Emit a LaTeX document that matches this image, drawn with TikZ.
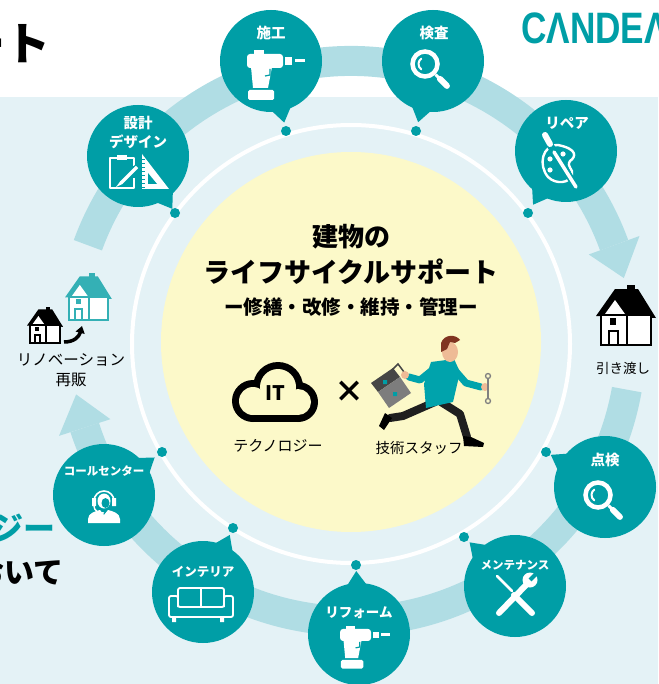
\documentclass[tikz,border=0pt]{standalone}
\usepackage{fontspec}
\setmainfont{Noto Sans CJK JP}
\newfontfamily\logofont{Liberation Sans}
\usetikzlibrary{calc,positioning,arrows.meta}

\definecolor{cteal}{RGB}{0,158,166}
\definecolor{cband}{RGB}{176,221,228}
\definecolor{cpale}{RGB}{228,242,246}
\definecolor{ccream}{RGB}{252,249,201}
\definecolor{chouse}{RGB}{52,176,181}
\definecolor{cshirt}{RGB}{0,163,172}
\definecolor{cskin}{RGB}{238,187,150}
\definecolor{chair}{RGB}{128,52,32}
\definecolor{cbox}{RGB}{125,125,125}
\definecolor{cboxtop}{RGB}{70,70,70}

\begin{document}
\begin{tikzpicture}[x=1pt,y=-1pt,
    bubble/.style={circle,fill=cteal,minimum size=102pt,inner sep=0pt},
    dot/.style={circle,fill=cteal,minimum size=10pt,inner sep=0pt},
    blabel/.style={text=white,inner sep=0pt,align=center,font=\bfseries\fontsize{14.5}{19}\selectfont},
    slabel/.style={blabel,font=\bfseries\fontsize{11.5}{14}\selectfont},
    caption/.style={inner sep=0pt,align=center,font=\fontsize{14.5}{19.5}\selectfont},
    ring/.style={cband,line width=30pt},
    icon/.style={white,line width=1.8pt,line join=round},
    hline/.style={line width=2.6pt},
    pics/drill/.style={code={
      \fill[white] (-22,-25) rectangle (-12,-20);
      \fill[white,rounded corners=3pt] (-29,-21) rectangle (7,-7);
      \fill[white] (9,-18) rectangle (16,-10);
      \fill[white] (19,-16) rectangle (29,-13);
      \fill[white] (-25,-8) -- (-4,-8) -- (-8,13) -- (-23,13) -- cycle;
      \fill[white,rounded corners=1.5pt] (-28,15) rectangle (-2,25);
      \draw[cteal,line width=1.2pt] (-6,-6) -- (-6,0) -- (-11,1);
    }},
    pics/lens/.style={code={
      \draw[white,line width=4.5pt] (0,0) circle[radius=12.5];
      \draw[white,line width=2pt,line cap=round] (125:6.5) arc[start angle=125,end angle=235,radius=6.5];
      \draw[white,line width=3pt] (45:15) -- (45:21);
      \draw[white,line width=6pt,line cap=round] (45:21) -- (45:31);
    }},
    pics/house/.style={code={
      \fill[#1] (31,-60) rectangle (39,-44);
      \fill[#1] (0,-29) -- (19,-56) -- (42,-56) -- (60,-27) -- cycle;
      \fill[white] (9,-31) -- (19,-45) -- (29,-31) -- cycle;
      \draw[#1,hline,fill=white] (5,-30) rectangle (55,0);
      \draw[#1,hline] (31,-30) -- (31,0);
      \draw[#1,hline] (13,0) -- (13,-14) -- (22,-14) -- (22,0);
      \fill[#1] (14,-27) rectangle (20,-20);
    }}]
  \useasboundingbox (0,0) rectangle (658,684);
  \fill[cpale] (0,97) rectangle (658,684);

  % cycle band with its two arrow heads
  \coordinate (rc) at (351,341);
  \draw[ring] ($(rc)+(200:280)$) arc[start angle=200,end angle=340,radius=280];
  \fill[cband] ($(rc)+(340:253)$) -- ($(rc)+(347:280)$) -- ($(rc)+(340:307)$) -- cycle;
  \draw[ring] ($(rc)+(10:280)$) arc[start angle=10,end angle=162,radius=280];
  \fill[cband] ($(rc)+(162:253)$) -- ($(rc)+(169:280)$) -- ($(rc)+(162:307)$) -- cycle;

  % inner ring and centre disc
  \draw[white,line width=4pt] (351,344) circle[radius=219];
  \fill[ccream] (351,342) circle[radius=190];

  % points on the ring
  \node[dot] (d1) at (286,131) {};
  \node[dot] (d2) at (416,131) {};
  \node[dot] (d3) at (528,213) {};
  \node[dot] (d4) at (175,213) {};
  \node[dot] (d5) at (162,452) {};
  \node[dot] (d6) at (233,528) {};
  \node[dot] (d7) at (356,565) {};
  \node[dot] (d8) at (464,537) {};
  \node[dot] (d9) at (546,452) {};

  % speech bubbles
  \node[bubble] (b1) at (271,61) {};
  \node[bubble] (b2) at (433,61) {};
  \node[bubble] (b3) at (566,151) {};
  \node[bubble] (b4) at (138,156) {};
  \node[bubble] (b5) at (104,495) {};
  \node[bubble] (b6) at (203,592) {};
  \node[bubble] (b7) at (359,634) {};
  \node[bubble] (b8) at (515,586) {};
  \node[bubble] (b9) at (605,487) {};
  \foreach \n in {1,...,9}
    \fill[cteal] ($(b\n)!44pt!-20:(d\n)$) -- ($(b\n)!63pt!(d\n)$) -- ($(b\n)!44pt!20:(d\n)$) -- cycle;

  % 施工
  \node[blabel] (l1) at ($(b1)+(0,-28)$) {施工};
  \pic at ($(b1)+(5,14)$) {drill};
  % 検査
  \node[blabel] (l2) at ($(b2)+(1,-28)$) {検査};
  \pic at ($(b2)+(-8,3)$) {lens};
  % リペア
  \node[blabel] (l3) at ($(b3)+(1,-28)$) {リペア};
  \begin{scope}[shift={($(b3)+(-4,12)$)}]
    \draw[icon,line width=2.4pt] (-4,-18) .. controls (-20,-18) and (-24,2) .. (-14,14)
      .. controls (-6,22) and (8,20) .. (10,12) .. controls (12,6) and (4,4) .. (8,-2)
      .. controls (14,-6) and (16,-14) .. (-4,-18);
    \fill[white] (-12,-4) circle[radius=2.6] (-12,7) circle[radius=2.6] (1,-9) circle[radius=2.6];
    \draw[cteal,line width=7pt,line cap=round] (-12,-18) -- (14,24);
    \draw[white,line width=3.5pt,line cap=round] (-8,-11) -- (14,24);
    \draw[white,line width=6pt,line cap=round] (-17,-28) -- (-12,-19);
  \end{scope}
  % 設計デザイン
  \node[blabel] (l4) at ($(b4)+(0,-24)$) {設計\\デザイン};
  \begin{scope}[shift={(b4)}]
    \draw[icon] (-20,2) -- (-28,2) -- (-28,32) -- (-4,32) -- (-4,22);
    \draw[icon] (-12,2) -- (-4,2) -- (-4,10);
    \fill[white] (-21,-1) rectangle (-11,4);
    \draw[cteal,line width=6pt] (-1,11) -- (-19,29);
    \draw[white,line width=3.5pt] (-1,11) -- (-17,27);
    \fill[white] (-17.5,25) -- (-22,31) -- (-15.5,28) -- cycle;
    \fill[white] (4,-2) -- (4,33) -- (31,33) -- cycle;
    \fill[cteal] (10,17) -- (10,28) -- (19,28) -- cycle;
    \foreach \t in {3,7,...,31} \draw[cteal,line width=0.8pt] (4,\t) -- (7,\t);
  \end{scope}
  % コールセンター
  \node[slabel] (l5) at ($(b5)+(0,-24)$) {コールセンター};
  \begin{scope}[shift={(b5)}]
    \draw[white,line width=1.6pt] (-10,6) arc[start angle=180,end angle=360,radius=10];
    \fill[white] (-12,3) rectangle (-8,11) (8,3) rectangle (12,11);
    \fill[white] (0,6) ellipse[x radius=6.5,y radius=7.5];
    \fill[cteal] (1.5,8) ellipse[x radius=4,y radius=5];
    \draw[white,line width=1.4pt] (-10,10) .. controls (-10,17) and (-5,18) .. (0,18);
    \fill[white] (-16,28) -- (-16,24) .. controls (-16,18) and (-8,16) .. (-4,15) -- (0,20)
      -- (4,15) .. controls (8,16) and (16,18) .. (16,24) -- (16,28) -- cycle;
  \end{scope}
  % インテリア
  \node[blabel,font=\bfseries\fontsize{12.5}{15}\selectfont] (l6) at ($(b6)+(0,-20)$) {インテリア};
  \begin{scope}[shift={(b6)}]
    \draw[icon,rounded corners=2pt] (-25,15) -- (-25,-4) -- (21,-4) -- (21,15);
    \draw[icon] (-2,-4) -- (-2,15);
    \draw[icon,rounded corners=2pt] (-34,25) -- (-34,4) -- (-25,4) -- (-25,15) -- (21,15)
      -- (21,4) -- (30,4) -- (30,25) -- cycle;
    \fill[white] (-31,25) rectangle (-27,30) (17,25) rectangle (21,30);
  \end{scope}
  % リフォーム
  \node[blabel,font=\bfseries\fontsize{13.5}{16}\selectfont] (l7) at ($(b7)+(0,-21)$) {リフォーム};
  \pic[scale=0.86] at ($(b7)+(6,13)$) {drill};
  % メンテナンス
  \node[slabel] (l8) at ($(b8)+(0,-21)$) {メンテナンス};
  \begin{scope}[shift={(b8)}]
    \draw[white,line width=6pt,line cap=round] (-16,27) -- (12,-2);
    \fill[white] (15,-6) circle[radius=7.5];
    \draw[cteal,line width=4pt] (15,-6) -- (23,-14);
    \draw[white,line width=2.5pt,line cap=round] (-18,-10) -- (-3,5);
    \draw[white,line width=6pt,line cap=round] (-1,9) -- (17,27);
  \end{scope}
  % 点検
  \node[blabel] (l9) at ($(b9)+(0,-27)$) {点検};
  \pic at ($(b9)+(-7,8)$) {lens};

  % houses
  \pic at (596,345) {house=black};
  \node[caption,font=\fontsize{13.5}{16}\selectfont] (handover) at (623,368) {引き渡し};
  \pic[scale=0.6,hline/.style={line width=1.8pt}] at (27,343) {house=black};
  \pic[scale=0.78,hline/.style={line width=2.2pt}] at (65,320) {house=chouse};
  \coordinate (oldhouse) at (64,342);
  \coordinate (newhouse) at (82,326);
  \draw[-{Triangle[length=7pt,width=9pt]},line width=3.5pt] (oldhouse) .. controls (74,342) and (79,337) .. (newhouse);
  \node[caption,font=\fontsize{15.5}{19.5}\selectfont] (resale) at (71,370) {リノベーション\\再販};

  % centre text
  \node[font=\bfseries\fontsize{26}{30}\selectfont] (title1) at (351,237) {建物の};
  \node[font=\bfseries\fontsize{27}{30}\selectfont] (title2) at (351,272) {ライフサイクルサポート};
  \node[font=\bfseries\fontsize{19.5}{22}\selectfont] (title3) at (351,307) {ー修繕・改修・維持・管理ー};

  % cloud
  \fill[black] (253,401) circle[radius=21];
  \fill[black] (278,387) circle[radius=25];
  \fill[black] (298,402) circle[radius=20];
  \fill[black] (253,392) rectangle (298,422);
  \fill[ccream] (253,401) circle[radius=14];
  \fill[ccream] (278,387) circle[radius=18];
  \fill[ccream] (298,402) circle[radius=13];
  \fill[ccream] (253,395) rectangle (298,415);
  \node[font=\bfseries\fontsize{20}{20}\selectfont] (it) at (275,393) {IT};
  \node[font=\bfseries\fontsize{30}{30}\selectfont] (times) at (349,392) {×};
  \node[caption,font=\fontsize{15}{18}\selectfont] (tech) at (278,446) {テクノロジー};
  \node[caption] (staff) at (419,448) {技術スタッフ};

  % running staff member
  \fill[cboxtop] (371,383) -- (393,368) -- (400,377) -- (378,392) -- cycle;
  \fill[cbox] (378,392) -- (400,377) -- (411,393) -- (389,408) -- cycle;
  \fill[cteal] (383,380) rectangle (387,384) (393,392) rectangle (397,396);
  \draw[cboxtop,line width=1.5pt] (392,370) -- (398,364) -- (404,372);
  \draw[cshirt,line width=7pt,line cap=round,line join=round] (436,367) -- (420,380) -- (409,377);
  \fill[cskin] (405,375) circle[radius=4];
  \draw[black!88,line width=8pt,line cap=round,line join=round] (435,402) -- (403,416) -- (390,418);
  \draw[black!88,line width=8pt,line cap=round,line join=round] (441,402) -- (460,414) -- (467,437);
  \fill[black] (385,413) -- (392,418) -- (384,430) -- (379,426) -- cycle;
  \fill[black] (463,436) -- (471,437) -- (484,443) -- (483,447) -- (464,446) -- cycle;
  \fill[cskin] (446,356) rectangle (453,364);
  \fill[cshirt] (431,362) -- (454,359) -- (460,372) -- (453,402) -- (426,408) -- (424,384) -- cycle;
  \draw[cshirt,line width=7pt,line cap=round,line join=round] (452,367) -- (466,383) -- (481,387);
  \fill[cskin] (485,387) circle[radius=4];
  \draw[gray,line width=2.2pt] (488,378) -- (488,399);
  \draw[gray,line width=1.3pt] (488,376) circle[radius=2.5] (488,401) circle[radius=2.5];
  \fill[cskin] (450,352) ellipse[x radius=8,y radius=10];
  \fill[chair] (441,352) -- (441,343) .. controls (444,334) and (456,334) .. (460,340)
    -- (455,343) -- (450,342) -- (447,349) -- cycle;

  % edge texts and logo
  \node[anchor=base east,inner sep=0pt,font=\bfseries\fontsize{45}{45}\selectfont] (head) at (51,61) {ート};
  \node[anchor=base west,inner sep=0pt,text=cteal,font=\logofont\bfseries\fontsize{44}{44}\selectfont] (logo) at (521,44) {\scalebox{0.8}[1]{CΛNDEΛ}};
  \node[anchor=base east,inner sep=0pt,text=cteal,font=\bfseries\fontsize{32}{32}\selectfont] (lead1) at (56,540) {ジー};
  \node[anchor=base east,inner sep=0pt,font=\bfseries\fontsize{30}{30}\selectfont] (lead2) at (64,583) {おいて};
\end{tikzpicture}
\end{document}
